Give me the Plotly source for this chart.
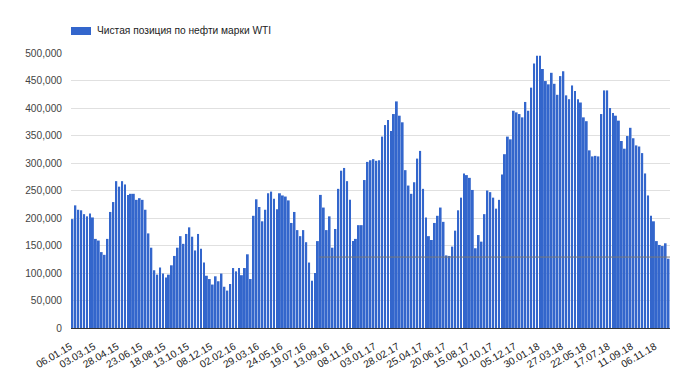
import pandas as pd
import plotly.graph_objects as go

series_name = "Чистая позиция по нефти марки WTI"

values_k = [
    198, 223, 215, 214, 207, 203, 208, 201, 162, 159, 138, 133, 162, 211, 229, 267, 257, 267, 261, 242,
    244, 244, 233, 236, 233, 215, 172, 146, 105, 97, 110, 99, 92, 97, 114, 131, 146, 167, 153, 171,
    183, 166, 141, 171, 144, 119, 95, 89, 79, 94, 85, 99,
    75, 68, 80, 109, 103, 109, 96, 109, 134, 89, 204, 234, 220, 194, 215, 245, 248, 235, 216, 245,
    241, 239, 232, 191, 211, 178, 167, 178, 156, 119, 86, 100, 158, 242, 219, 178, 203, 146, 180, 253,
    286, 291, 267, 233, 158, 162, 187, 187, 269, 302, 305,
    307, 304, 305, 348, 369, 378, 358, 389, 412, 386, 374, 287, 259, 244, 265, 308, 322, 253, 201, 167,
    160, 191, 204, 219, 193, 132, 131, 148, 177, 214, 237, 281, 278, 273, 251, 145, 169, 157, 207, 250,
    247, 237, 217, 233, 279, 316, 348, 343, 395, 392, 389,
    383, 411, 395, 437, 481, 495, 495, 471, 449, 443, 464, 444, 424, 458, 467, 423, 416, 441, 431, 416,
    410, 383, 376, 323, 312, 313, 312, 389, 432, 432, 400, 391, 386, 377, 340, 326, 349, 364, 345, 332,
    330, 318, 281, 241, 204, 194, 158, 151, 149, 154, 126,
]
values = [v * 1000 for v in values_k]

start_date = "2015-01-06"
dates = [d.strftime("%d.%m.%y") for d in pd.date_range(start_date, periods=len(values), freq="7D")]

tick_labels = [
    "06.01.15", "03.03.15", "28.04.15", "23.06.15", "18.08.15", "13.10.15", "08.12.15",
    "02.02.16", "29.03.16", "24.05.16", "19.07.16", "13.09.16", "08.11.16", "03.01.17",
    "28.02.17", "25.04.17", "20.06.17", "15.08.17", "10.10.17", "05.12.17", "30.01.18",
    "27.03.18", "22.05.18", "17.07.18", "11.09.18", "06.11.18",
]
y_ticks = [0, 50000, 100000, 150000, 200000, 250000, 300000, 350000, 400000, 450000, 500000]

ref_level = 129000
ref_start = "23.08.16"

BLUE = "#3366cc"
FONT = "Liberation Sans, Arial, sans-serif"
FS = 10.2

fig = go.Figure()
fig.add_trace(go.Bar(x=dates, y=values, name=series_name, marker=dict(color=BLUE, line=dict(width=0)),
                     showlegend=False))

ref_idx = dates.index(ref_start) - 0.5
fig.add_shape(type="line", xref="x", yref="y", x0=ref_idx, x1=len(dates) - 0.5, y0=ref_level, y1=ref_level,
              line=dict(color="#777777", width=1))

# legend (custom)
W, H = 681, 376
L, R, T, B = 71, 11, 53, 48
pw, ph = W - L - R, H - T - B
def px(x):
    return (x - L) / pw
def py(y):
    return (H - B - y) / ph

fig.add_shape(type="rect", xref="paper", yref="paper", x0=px(71), x1=px(91), y0=py(35), y1=py(27),
              fillcolor=BLUE, line=dict(width=0))
fig.add_annotation(xref="paper", yref="paper", x=px(95), y=py(31), text=series_name, showarrow=False,
                   xanchor="left", yanchor="middle", font=dict(family=FONT, size=FS, color="#222222"))

fig.update_layout(
    width=W, height=H,
    margin=dict(l=L, r=R, t=T, b=B),
    paper_bgcolor="white", plot_bgcolor="white",
    bargap=0.35,
    font=dict(family=FONT, size=FS, color="#444444"),
    xaxis=dict(type="category", tickmode="array", tickvals=tick_labels, ticktext=tick_labels,
               tickangle=-30, showgrid=False, range=[-0.5, len(dates) - 0.5], automargin=False,
               tickfont=dict(family=FONT, size=FS, color="#222222"),
               showline=False, ticks="", ticklabelshift=-2, ticklabelstandoff=10),
    yaxis=dict(range=[0, 500000], tickvals=y_ticks, tickformat=",", showgrid=True, automargin=False,
               gridcolor="#e0e0e0", gridwidth=1, zeroline=True, zerolinecolor="#333333",
               zerolinewidth=1, tickfont=dict(family=FONT, size=FS, color="#444444"),
               ticks="", ticklabelstandoff=8),
)

fig.write_html("out.html", config={"displayModeBar": False},
               post_script="document.body.style.margin='0';document.body.style.overflow='hidden';")
